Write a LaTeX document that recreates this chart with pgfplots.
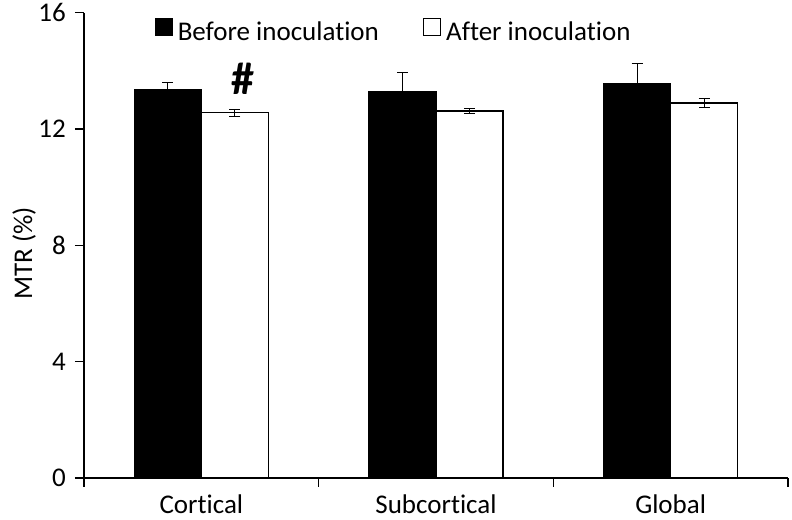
\documentclass[border=0pt]{standalone}
\usepackage{pgfplots}
\pgfplotsset{compat=1.18}
\usepackage{fontspec}
\setmainfont{Carlito}[Ligatures={NoCommon,NoRequired,NoContextual},RawFeature={-liga;-clig;-dlig;-calt}]
\usetikzlibrary{calc}
\begin{document}
\fontsize{27bp}{32bp}\selectfont
\begin{tikzpicture}
\begin{axis}[
  name=ax,
  scale only axis, width=704bp, height=465.3bp,
  xmin=-0.5, xmax=2.5, ymin=0, ymax=16,
  ybar=0pt, bar width=67bp,
  axis x line*=bottom, axis y line*=left,
  axis line style={line width=1.4bp},
  ytick={0,4,8,12,16},
  xtick={-0.5,0.5,1.5,2.5}, xticklabels={},
  extra x ticks={0,1,2},
  extra x tick labels={Cortical,Subcortical,Global},
  extra x tick style={major tick length=0pt, tick style={draw=none}, ticklabel style={inner sep=0pt, yshift=-17bp}},
  tick align=outside,
  major tick length=9bp,
  tick style={line width=1.4bp, black},
  /pgf/number format/assume math mode=true,
  every axis y label/.style={at={(axis description cs:-0.085,0.483)}, rotate=90, anchor=center},
  ylabel={MTR (\%)},
  legend columns=2,
  legend style={draw=none, fill=none, at={(axis description cs:0.1,0.99)}, anchor=north west,
    inner sep=0pt, /tikz/every even column/.append style={column sep=39bp},
    nodes={inner xsep=5bp}},
  legend image code/.code={\draw[#1, line width=1.2bp] (0bp,-2bp) rectangle (17bp,15bp);},
]
\addplot[fill=black, draw=black, line width=1.2bp,
  error bars/.cd, y dir=both, y explicit,
  error bar style={line width=1.3bp, black},
  error mark options={rotate=90, mark size=5.5bp, line width=1.3bp, black}]
  coordinates {(0,13.37) +- (0,0.22) (1,13.28) +- (0,0.66) (2,13.57) +- (0,0.69)};
\addlegendentry{Before inoculation}
\addplot[fill=white, draw=black, line width=1.4bp,
  error bars/.cd, y dir=both, y explicit,
  error bar style={line width=1.3bp, black},
  error mark options={rotate=90, mark size=5.5bp, line width=1.3bp, black}]
  coordinates {(0,12.56) +- (0,0.12) (1,12.62) +- (0,0.08) (2,12.90) +- (0,0.16)};
\addlegendentry{After inoculation}
\node[font=\bfseries\fontsize{46bp}{50bp}\selectfont, xshift=42bp] at (axis cs:0,13.72) {\#};
\end{axis}
\pgfresetboundingbox
\path[use as bounding box] ($(ax.south west)+(-84bp,-42bp)$) rectangle ($(ax.north east)+(4bp,12.7bp)$);
\end{tikzpicture}
\end{document}
